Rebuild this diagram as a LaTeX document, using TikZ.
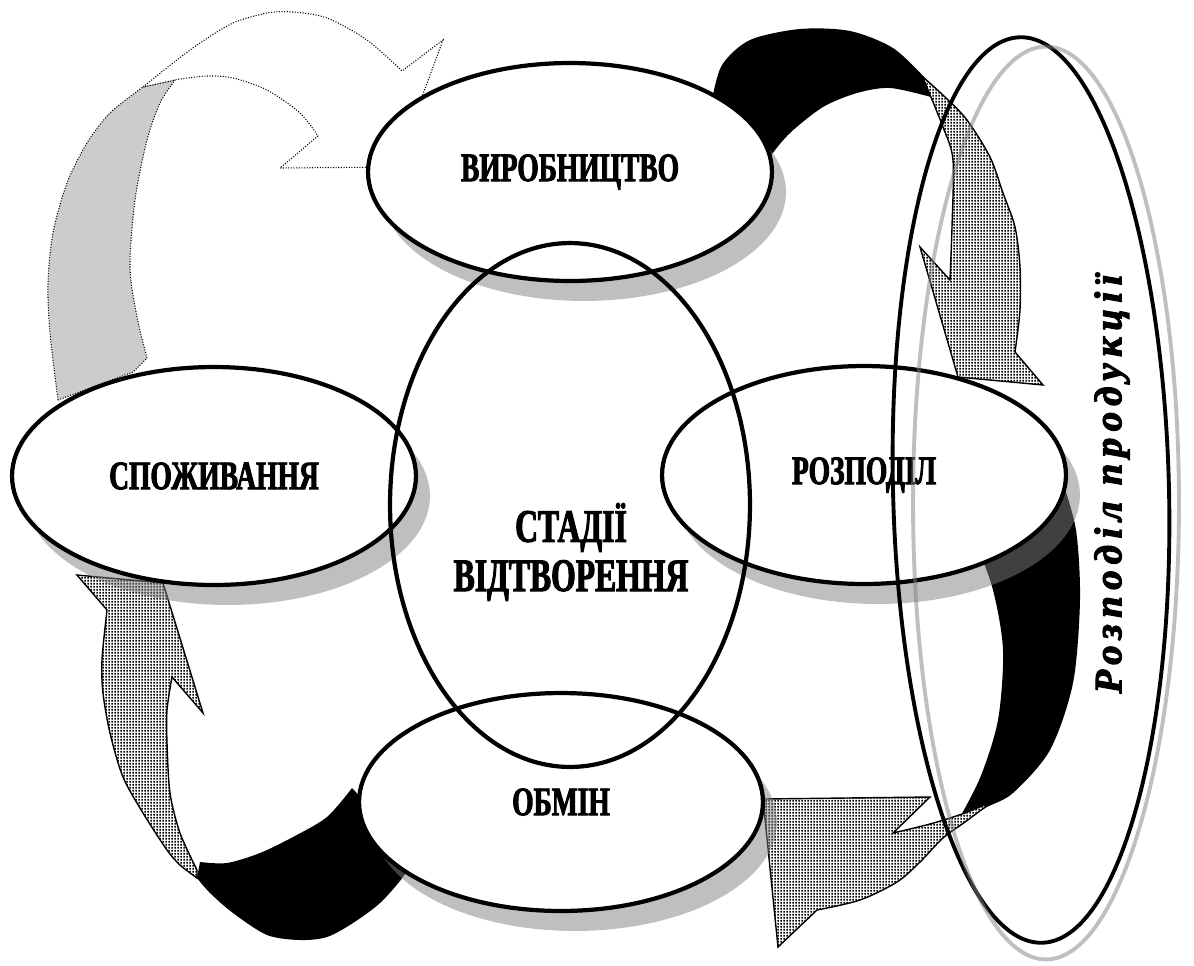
\documentclass[tikz,border=0pt]{standalone}
\usepackage{fontspec}
\setmainfont{Liberation Serif}
\newfontfamily\stagefont[FakeStretch=0.68, FakeBold=2.2]{Liberation Serif Bold}
\newfontfamily\tallfont[LetterSpace=17, FakeBold=3]{Liberation Serif Bold Italic}
\usetikzlibrary{shapes.geometric, shadows, patterns.meta}

\tikzdeclarepattern{
  name=finedots,
  type=uncolored,
  bounding box={(0pt,0pt) and (1.8pt,1.9pt)},
  tile size={(1.8pt,1.9pt)},
  code={\pgfpathrectangle{\pgfpoint{0.3pt}{0.3pt}}{\pgfpoint{1.12pt}{1.12pt}}\pgfusepath{fill}}
}

\tikzset{
  stage/.style={ellipse, draw, line width=2.4pt, fill=white, inner sep=0pt,
    minimum width=8.08cm, minimum height=4.36cm,
    font=\stagefont\fontsize{23}{26}\selectfont,
    drop shadow={shadow xshift=0.28cm, shadow yshift=-0.4cm}},
  dotsarrow/.style={draw=black, line width=0.8pt, preaction={fill=white},
    pattern=finedots, pattern color=black, line join=miter},
  backband/.style={fill=black},
  dottedline/.style={draw=black, line width=0.6pt, dash pattern=on 0.6pt off 0.9pt},
}

\begin{document}
\begin{tikzpicture}[x=0.02cm, y=-0.02cm]
\useasboundingbox (0,0) rectangle (1194,965);

% ---- arrow: consumption -> production (dotted outline)
\path[fill=black!20, dottedline]
  plot[smooth] coordinates {(58,400) (50,333) (48,283) (53,233) (67,183) (87,143) (110,113) (143,87)}
  -- (175,80)
  -- plot[smooth] coordinates {(175,80) (160,103) (147,140) (135,200) (130,267) (137,317) (147,358)}
  -- (133,372) -- cycle;
\path[fill=white, dottedline]
  plot[smooth] coordinates {(143,87) (173,63) (200,43) (233,23) (267,13) (293,12) (327,18) (367,40) (402,71)}
  -- (443,40) -- (396,167) -- (280,168) -- (318,136)
  -- plot[smooth] coordinates {(318,136) (300,113) (267,90) (233,78) (207,76) (180,79) (175,80)}
  -- cycle;

% ---- arrow: production -> distribution
\path[backband]
  plot[smooth] coordinates {(712,100) (722,65) (750,40) (800,29) (850,31) (893,48) (925,78)}
  -- (931,97)
  -- plot[smooth] coordinates {(931,97) (890,88) (857,93) (823,107) (790,133) (770,157) (758,180)}
  -- cycle;
\path[dotsarrow]
  plot[smooth] coordinates {(923,77) (945,97) (967,120) (990,157) (1003,193) (1015,227) (1020,267) (1020,310) (1015,352)}
  -- (1043,385) -- (958,377) -- (920,247) -- (950,280)
  -- plot[smooth] coordinates {(950,280) (952,227) (953,160) (943,127) (923,78)}
  -- cycle;

% ---- arrow: distribution -> exchange
\path[backband]
  plot[smooth] coordinates {(1062,480) (1076,530) (1080,600) (1073,683) (1050,750) (1013,793) (985,808) (955,826)}
  -- plot[smooth] coordinates {(955,826) (980,778) (998,720) (1003,650) (993,590) (975,540) (960,500)}
  -- cycle;
\path[dotsarrow]
  plot[smooth] coordinates {(992,802) (965,822) (943,838) (920,862) (897,882) (860,900) (817,910)}
  -- (778,947) -- (763,799) -- (930,797) -- (893,833)
  -- plot[smooth] coordinates {(893,833) (930,824) (962,814) (992,802)}
  -- cycle;

% ---- arrow: exchange -> consumption
\path[backband]
  plot[smooth] coordinates {(352,788) (327,817) (293,837) (260,853) (227,863) (200,862)}
  -- plot[smooth] coordinates {(197,878) (210,893) (233,913) (267,935) (300,940) (327,937) (353,923) (380,903) (403,877) (415,855)}
  -- cycle;
\path[dotsarrow]
  plot[smooth] coordinates {(197,878) (180,865) (167,850) (143,813) (123,777) (110,733) (103,693) (102,660) (107,610)}
  -- (77,575) -- (163,583) -- (203,713) -- (172,677)
  -- plot[smooth] coordinates {(172,677) (167,710) (167,743) (170,793) (180,833) (197,870)}
  -- cycle;

% ---- stages
\node[stage] (prod) at (570,172) {ВИРОБНИЦТВО};
\node[stage] (cons) at (214,476) {СПОЖИВАННЯ};
\node[stage] (dist) at (864,475) {РОЗПОДІЛ};
\node[stage] (exch) at (561,802) {ОБМІН};

% ---- centre
\node[ellipse, draw, line width=2.4pt, inner sep=0pt, minimum width=7.2cm, minimum height=10.48cm] (centre) at (570,505) {};
\node[font=\stagefont\fontsize{26.5}{28}\selectfont, align=center] (ctext) at (571,552) {СТАДІЇ\\ВІДТВОРЕННЯ};

% ---- tall ellipse
\node[ellipse, draw, line width=2.2pt, inner sep=0pt, minimum width=5.52cm, minimum height=18.12cm, rotate=1.4] (tall) at (1031,490) {};
\node[ellipse, draw=black!50, draw opacity=0.5, line width=2.2pt, inner sep=0pt, minimum width=5.32cm, minimum height=18.26cm] (tallshade) at (1046,503) {};
\node[rotate=90, font=\tallfont\fontsize{22}{26}\selectfont] (talltext) at (1112,484) {Розподіл продукції};
\end{tikzpicture}
\end{document}
